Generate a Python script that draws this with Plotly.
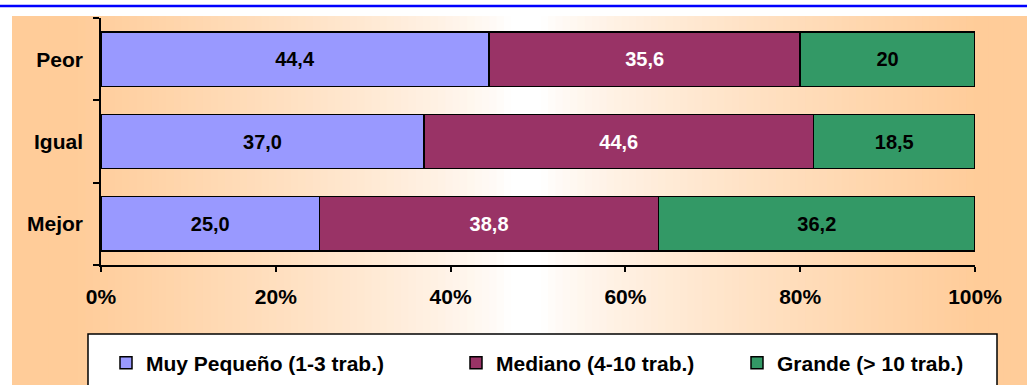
import plotly.graph_objects as go

categories = ["Mejor", "Igual", "Peor"]
series_names = ["Muy Pequeño (1-3 trab.)", "Mediano (4-10 trab.)", "Grande (> 10 trab.)"]
muy_pequeno = [25.0, 37.0, 44.4]
mediano = [38.8, 44.6, 35.6]
grande = [36.2, 18.5, 20]
label_muy = ["25,0", "37,0", "44,4"]
label_med = ["38,8", "44,6", "35,6"]
label_gra = ["36,2", "18,5", "20"]
x_ticks = [0, 20, 40, 60, 80, 100]
x_tick_text = ["0%", "20%", "40%", "60%", "80%", "100%"]

colors = ["#9999FF", "#993366", "#339966"]
text_colors = ["black", "white", "black"]
FONT = "Arial, Liberation Sans, sans-serif"
FS = 21
FS_LBL = 20

W, H = 1027, 385
L, R, T, B = 101, 52, 18, 120
pw, ph = W - L - R, H - T - B

def px_x(p):
    return (p - L) / pw

def px_y(p):
    return (H - B - p) / ph

fig = go.Figure()
series = [muy_pequeno, mediano, grande]
labels = [label_muy, label_med, label_gra]
legends = ["legend", "legend2", "legend3"]
for i in range(3):
    fig.add_trace(go.Bar(
        y=categories, x=series[i], orientation="h", name=series_names[i],
        marker=dict(color=colors[i], line=dict(color="black", width=1.5)),
        text=labels[i], textposition="inside", insidetextanchor="middle",
        textangle=0, constraintext="none",
        textfont=dict(family=FONT, size=FS_LBL, color=text_colors[i], weight="bold"),
        legend=legends[i], hoverinfo="skip",
    ))

shapes = []
# horizontal gradient background (orange - white - orange)
x_left, x_right = 12, 1040
n = 140
orange = (255, 204, 153)
for k in range(n):
    a = x_left + (x_right - x_left) * k / n
    b = x_left + (x_right - x_left) * (k + 1) / n
    p = (k + 0.5) / n
    t = abs(2 * p - 1)
    t = max(0.0, min(1.0, (t - 0.03) / 0.85)) ** 0.75
    c = tuple(round(255 + (o - 255) * t) for o in orange)
    shapes.append(dict(type="rect", xref="paper", yref="paper",
                       x0=px_x(a), x1=px_x(b) + 0.001, y0=px_y(400), y1=px_y(16),
                       fillcolor="rgb(%d,%d,%d)" % c, line=dict(width=0), layer="below"))
# top blue line
shapes.append(dict(type="line", xref="paper", yref="paper", x0=px_x(0), x1=px_x(W),
                   y0=px_y(6), y1=px_y(6), line=dict(color="#0000FF", width=2.5)))
# legend box
shapes.append(dict(type="rect", xref="paper", yref="paper", x0=px_x(88), x1=px_x(997),
                   y0=px_y(400), y1=px_y(334), fillcolor="white",
                   line=dict(color="black", width=1.5), layer="below"))

legend_centers = [127, 477, 758]
leg_common = dict(orientation="h", bgcolor="rgba(0,0,0,0)", borderwidth=0,
                  font=dict(family=FONT, size=FS, color="black", weight="bold"),
                  yref="container", yanchor="middle", y=(H - 363) / H, xanchor="left")

fig.update_layout(
    width=W, height=H,
    margin=dict(l=L, r=R, t=T, b=B, pad=0, autoexpand=False),
    paper_bgcolor="white", plot_bgcolor="rgba(0,0,0,0)",
    barmode="stack", barnorm="percent", bargap=0.34,
    separators=",.",
    showlegend=True,
    legend=dict(**leg_common, x=px_x(legend_centers[0] - 20 - 1)),
    legend2=dict(**leg_common, x=px_x(legend_centers[1] - 20 - 1)),
    legend3=dict(**leg_common, x=px_x(legend_centers[2] - 20 - 1)),
    shapes=shapes,
    xaxis=dict(range=[0, 100], tickmode="array", tickvals=x_ticks, ticktext=x_tick_text,
               showgrid=False, zeroline=False, showline=True, linecolor="black", linewidth=1.5,
               ticks="outside", ticklen=5, tickwidth=1.5, tickcolor="black",
               ticklabelstandoff=7,
               tickfont=dict(family=FONT, size=FS, color="black", weight="bold"), fixedrange=True),
    yaxis=dict(type="category", categoryorder="array", categoryarray=categories,
               showgrid=False, zeroline=False, showline=True, linecolor="black", linewidth=1.5,
               ticks="outside", ticklen=6, tickwidth=1.5, tickcolor="black", tickson="boundaries",
               ticklabelstandoff=12,
               tickfont=dict(family=FONT, size=FS, color="black", weight="bold"), fixedrange=True),
)

fig.write_html("out.html")
